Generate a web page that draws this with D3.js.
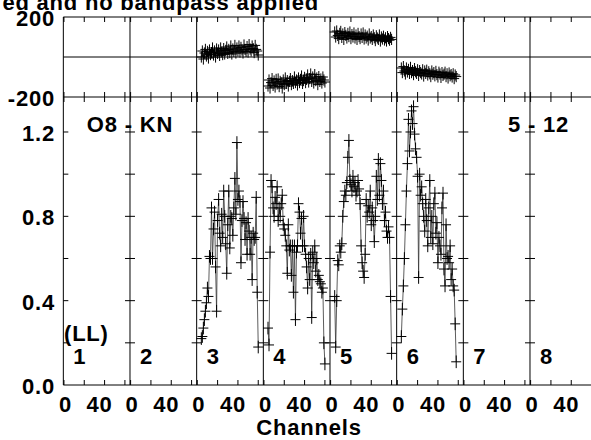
<!DOCTYPE html>
<html><head><meta charset="utf-8">
<script src="https://cdn.jsdelivr.net/npm/d3@7"></script>
<style>
html,body{margin:0;padding:0;background:#fff;}
svg{display:block;}
text{font-family:"Liberation Sans",Arial,Helvetica,sans-serif;font-weight:bold;font-size:22px;letter-spacing:0.8px;fill:#000;}
</style></head><body>
<svg id="c" width="591" height="440"></svg>
<script>
// ---------- data ----------
const ifNumbers = [1, 2, 3, 4, 5, 6, 7, 8];
const channels = [4,5,6,7,8,9,10,11,12,13,14,15,16,17,18,19,20,21,22,23,24,25,26,27,28,29,30,31,32,
  33,34,35,36,37,38,39,40,41,42,43,44,45,46,47,48,49,50,51,52,53,54,55,56,57,58,59,60];
const chanTicks = [0, 20, 40, 60];
const chanTickLabels = [0, 40];
const ampTickLabels = [0.0, 0.4, 0.8, 1.2];
const ampMinorTicks = [0.2, 0.4, 0.6, 0.8, 1.0, 1.2];
const phaseTickLabels = [-200, 200];
const ampErr = 0.03;
const phaseErr = 28;

const ampIF3 = [0.22,0.23,0.27,0.31,0.35,0.39,0.46,0.42,0.61,0.60,0.84,0.60,0.74,0.82,0.56,0.35,0.78,0.88,0.72,0.66,
  0.81,0.70,0.92,0.80,0.67,0.53,0.76,0.92,0.65,0.80,0.79,0.71,0.84,0.98,0.81,1.15,0.88,0.92,0.87,0.58,
  0.78,0.87,0.79,0.69,0.77,0.62,0.79,0.73,0.62,0.70,0.50,0.72,0.69,0.70,0.89,0.44,0.18];
const ampIF4 = [0.27,0.19,0.63,0.97,0.94,0.84,0.80,0.89,0.86,0.94,0.78,0.84,0.80,0.86,0.90,0.76,0.74,0.71,0.66,0.53,
  0.76,0.64,0.66,0.52,0.66,0.44,0.66,0.31,0.63,0.66,0.86,0.82,0.72,0.79,0.66,0.80,0.66,0.62,0.56,0.46,
  0.60,0.50,0.62,0.32,0.63,0.58,0.66,0.54,0.60,0.50,0.52,0.49,0.48,0.44,0.46,0.20,0.10];
const ampIF5 = [0.42,0.18,0.40,0.59,0.57,0.66,0.63,0.67,0.80,0.87,0.92,0.90,0.96,1.08,1.16,0.97,0.95,0.92,0.99,0.94,
  0.96,0.90,0.92,0.97,0.93,0.86,0.66,0.58,0.54,0.51,0.62,0.88,0.80,0.85,0.82,0.92,0.76,0.84,0.78,0.68,
  0.80,0.99,0.88,1.07,0.90,1.05,0.97,0.86,0.92,0.78,0.82,0.73,0.70,0.75,0.70,0.42,0.15];
const ampIF6 = [0.23,0.36,0.47,0.60,0.76,0.92,1.05,1.26,1.11,1.20,1.30,1.24,1.32,1.19,1.12,1.08,0.99,0.51,1.00,0.90,
  0.94,0.86,0.80,0.73,0.88,0.78,0.66,0.84,0.97,0.70,0.80,0.67,0.86,0.91,0.72,0.77,0.58,0.70,0.66,0.62,
  0.84,0.91,0.55,0.47,0.76,0.60,0.61,0.58,0.66,0.50,0.55,0.47,0.45,0.29,0.11];

const phaseIF3 = [0,30,-10,20,38,5,28,-5,35,12,22,45,10,30,0,40,18,35,8,45,25,12,42,15,33,50,18,38,22,55,
  15,40,28,58,20,45,30,55,25,48,35,20,60,38,28,52,25,62,40,30,55,42,22,58,38,30,10];
const phaseIF4 = [-145,-115,-155,-128,-108,-142,-120,-150,-112,-135,-110,-148,-122,-130,-155,-115,-138,-105,-132,-118,
  -145,-122,-108,-138,-118,-132,-100,-128,-115,-140,-105,-128,-112,-95,-132,-118,-102,-128,-112,-90,
  -125,-108,-85,-122,-100,-130,-88,-118,-105,-138,-98,-122,-110,-130,-100,-115,-125];
const phaseIF5 = [125,100,130,108,92,118,128,98,115,88,122,108,95,118,102,125,92,112,100,120,95,110,88,118,102,
  92,115,98,120,90,110,95,104,85,115,95,102,88,110,96,82,106,95,88,110,80,100,90,104,85,96,80,102,92,84,98,88];
const phaseIF6 = [-55,-78,-48,-70,-85,-55,-75,-62,-82,-52,-78,-68,-88,-58,-74,-82,-64,-92,-68,-78,-85,-64,-95,-70,
  -82,-66,-90,-74,-84,-98,-70,-86,-78,-94,-72,-88,-100,-76,-85,-102,-78,-92,-86,-76,-98,-84,-105,-80,-94,-88,
  -100,-84,-108,-90,-98];

const seriesIFs = [3, 4, 5, 6];
const ampSeries = [ampIF3, ampIF4, ampIF5, ampIF6];
const phaseSeries = [phaseIF3, phaseIF4, phaseIF5, phaseIF6];

const titleText = "ed and no bandpass applied";
const sourceLabel = "O8 - KN";
const baselineLabel = "5 - 12";
const polLabel = "(LL)";
const xAxisTitle = "Channels";

// ---------- layout ----------
const left = 63.33, pw = 66.667;
const phTop = 17, phBot = 97, ampTop = 97, ampBot = 385;

const svg = d3.select("#c");
const ifBand = d3.scaleBand().domain(ifNumbers).range([left, left + pw * ifNumbers.length]).paddingInner(0).paddingOuter(0);
const chan = d3.scaleLinear().domain([-0.6, 65]).range([0, pw]);
const yAmp = d3.scaleLinear().domain([0, 1.366]).range([ampBot, ampTop]);
const yPh = d3.scaleLinear().domain([-200, 200]).range([phBot, phTop]);
const X = (ifn, c) => ifBand(ifn) + chan(c);
const right = left + pw * ifNumbers.length;

const g = svg.append("g");
const ln = (x1, y1, x2, y2, col = "#000", w = 1) =>
  g.append("line").attr("x1", x1).attr("y1", y1).attr("x2", x2).attr("y2", y2)
   .attr("stroke", col).attr("stroke-width", w);

// frame lines
ln(left, phTop, right, phTop);
ln(left, yPh(0), right, yPh(0));
ln(left, phBot, right, phBot);
ln(left, ampBot, right, ampBot);
ifNumbers.forEach(n => ln(ifBand(n), phTop, ifBand(n), ampBot));

// x ticks
const tk = 5;
ifNumbers.forEach(n => {
  chanTicks.forEach(c => {
    const x = X(n, c);
    ln(x, phTop, x, phTop + tk);
    ln(x, phBot - tk, x, phBot + tk);
    ln(x, ampBot - tk, x, ampBot);
  });
  ampMinorTicks.forEach(v => {
    const x = ifBand(n);
    ln(n === ifNumbers[0] ? x : x - tk, yAmp(v), x + tk, yAmp(v));
  });
});

// ---------- data ----------
const line = d3.line();
seriesIFs.forEach((n, k) => {
  const amp = ampSeries[k], ph = phaseSeries[k];
  const ptsA = amp.map((v, i) => [X(n, channels[i]), yAmp(v)]);
  const ptsP = ph.map((v, i) => [X(n, channels[i]), yPh(v)]);
  g.append("path").attr("d", line(ptsP)).attr("fill", "none").attr("stroke", "#333").attr("stroke-width", 0.8);
  g.append("path").attr("d", line(ptsA)).attr("fill", "none").attr("stroke", "#333").attr("stroke-width", 0.8);
  amp.forEach((v, i) => {
    const x = X(n, channels[i]);
    ln(x - 5, yAmp(v), x + 5, yAmp(v), "#000", 1);
    ln(x, yAmp(v - ampErr), x, yAmp(v + ampErr), "#000", 1);
  });
  ph.forEach((v, i) => {
    const x = X(n, channels[i]);
    ln(x - 5, yPh(v), x + 5, yPh(v), "#000", 1);
    ln(x, yPh(v - phaseErr), x, yPh(v + phaseErr), "#000", 1);
  });
});

// ---------- text ----------
const txt = (s, x, y, anchor = "start") =>
  svg.append("text").attr("x", x).attr("y", y).attr("text-anchor", anchor).text(s);

txt(titleText, 319, 9.5, "end");
phaseTickLabels.forEach(v => txt(String(v), 55, yPh(v) + 9, "end"));
ampTickLabels.forEach(v => txt(v.toFixed(1), 55, yAmp(v) + 9, "end"));
ifNumbers.forEach(n => {
  chanTickLabels.forEach(c => {
    const dx = c === 0 ? 1.5 : -5;
    txt(String(c), X(n, c) + dx, 412, "middle");
  });
  txt(String(n), ifBand(n) + 10, 364, "start");
});
txt(sourceLabel, 130, 132, "middle");
txt(baselineLabel, 508, 132, "start");
txt(polLabel, 64, 341, "start");
txt(xAxisTitle, 309, 435, "middle");
</script></body></html>
